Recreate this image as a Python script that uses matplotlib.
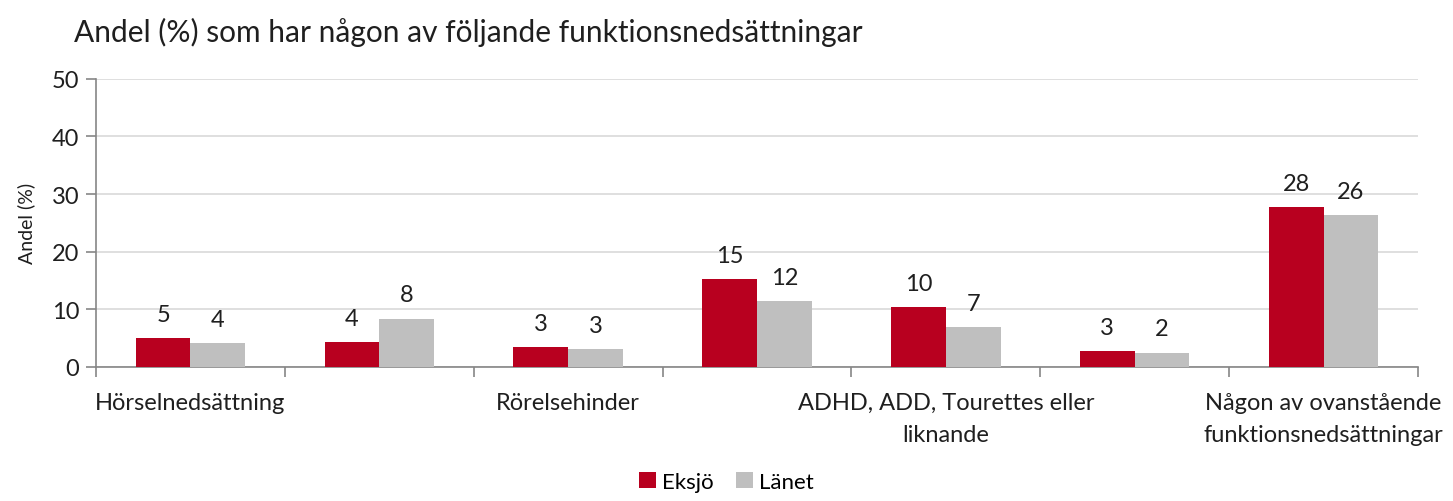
import numpy as np
import matplotlib
matplotlib.use('Agg')
import matplotlib.pyplot as plt

plt.rcParams['font.family'] = ['Lato', 'DejaVu Sans']

# data
categories = ['Hörselnedsättning', '', 'Rörelsehinder', '',
              'ADHD, ADD, Tourettes eller\nliknande', '',
              'Någon av ovanstående\nfunktionsnedsättningar']
eksjo = [5.0, 4.3, 3.4, 15.3, 10.4, 2.8, 27.7]
lanet = [4.2, 8.4, 3.1, 11.5, 7.0, 2.5, 26.3]
series_names = ['Eksjö', 'Länet']
yticks = [0, 10, 20, 30, 40, 50]

RED = '#B8001F'
GRAY = '#BFBFBF'
AXIS = '#868686'
TXT = '#1f1f1f'

fig = plt.figure(figsize=(14.53, 5.02), dpi=100)
ax = fig.add_axes([0.0661, 0.267, 0.9098, 0.574])

x = np.arange(len(categories))
w = 0.29
b1 = ax.bar(x - w / 2, eksjo, w, color=RED, label=series_names[0], zorder=3)
b2 = ax.bar(x + w / 2, lanet, w, color=GRAY, label=series_names[1], zorder=3)

for bars, vals in [(b1, eksjo), (b2, lanet)]:
    for r, v in zip(bars, vals):
        ax.annotate(f'{v:.0f}', (r.get_x() + r.get_width() / 2, v),
                    textcoords='offset points', xytext=(0, 17),
                    ha='center', va='center', fontsize=17, color=TXT)

ax.set_xlim(-0.5, len(categories) - 0.5)
ax.set_ylim(0, 50)
ax.set_yticks(yticks)
ax.yaxis.grid(True, color='#D9D9D9', linewidth=1.2, zorder=0)
ax.set_axisbelow(True)

ax.set_xticks(x)
ax.set_xticklabels(categories, fontsize=17, color=TXT, linespacing=1.65)
ax.set_xticks(np.arange(-0.5, len(categories)), minor=True)
ax.tick_params(axis='x', which='major', length=0, pad=18)
ax.tick_params(axis='x', which='minor', length=7, color=AXIS, width=1.2)
ax.tick_params(axis='y', length=7, color=AXIS, width=1.2, labelsize=17,
               labelcolor=TXT, pad=5)

for s in ['top', 'right']:
    ax.spines[s].set_visible(False)
for s in ['left', 'bottom']:
    ax.spines[s].set_color(AXIS)
    ax.spines[s].set_linewidth(1.2)

ax.set_ylabel('Andel (%)', fontsize=14, color=TXT, labelpad=12)

fig.text(0.051, 0.935, 'Andel (%) som har någon av följande funktionsnedsättningar',
         fontsize=21.5, color=TXT, ha='left', va='center')

fig.legend(handles=[b1, b2], labels=series_names, loc='lower center',
           bbox_to_anchor=(0.5, -0.022), ncol=2, frameon=False, fontsize=16,
           handlelength=0.75, handleheight=0.75, handletextpad=0.3,
           columnspacing=1.0)

fig.savefig('out.png', dpi=100)
